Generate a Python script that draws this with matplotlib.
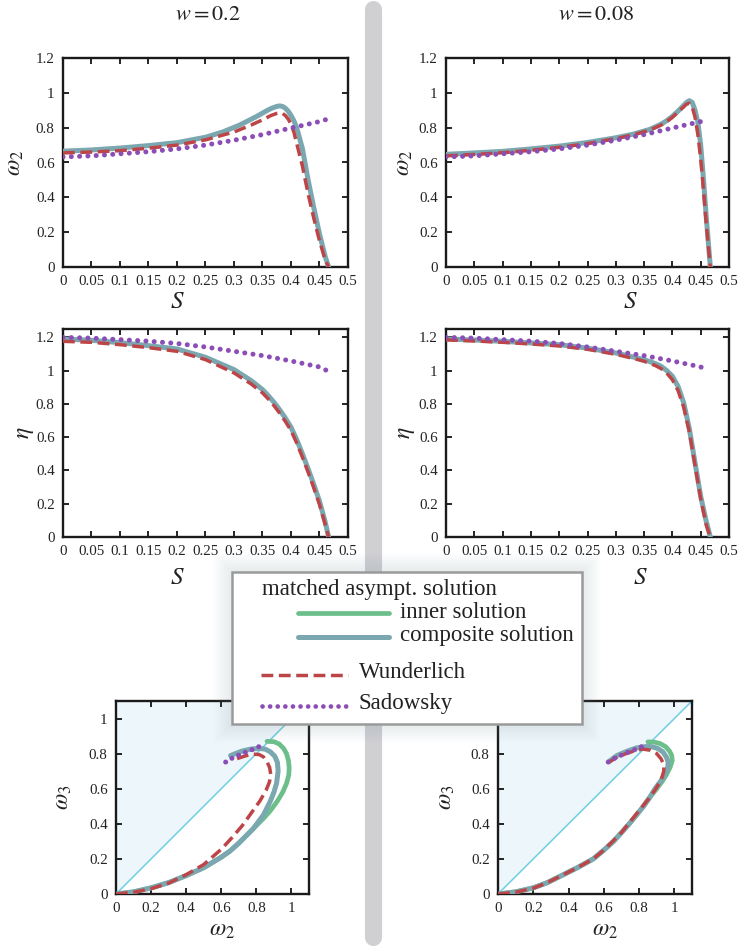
import numpy as np
import matplotlib
matplotlib.use('Agg')
import matplotlib.pyplot as plt
from matplotlib.lines import Line2D
from matplotlib.patches import Rectangle

plt.rcParams['font.family'] = ['Liberation Serif', 'DejaVu Serif']
plt.rcParams['mathtext.fontset'] = 'stix'
plt.rcParams['text.color'] = '#222222'

# ---- data, w = 0.2 (left column) ----
s_a = [0, 0.05, 0.1, 0.15, 0.2, 0.25, 0.28, 0.31, 0.34, 0.355, 0.365, 0.375, 0.38,
       0.385, 0.39, 0.395, 0.40, 0.405, 0.41, 0.42, 0.43, 0.44, 0.45, 0.46, 0.466]
w2_comp_a = [0.665, 0.672, 0.683, 0.697, 0.714, 0.745, 0.775, 0.815, 0.865, 0.893,
             0.91, 0.922, 0.925, 0.922, 0.912, 0.895, 0.87, 0.84, 0.80, 0.68, 0.50,
             0.34, 0.19, 0.06, 0.0]
s_wund_a = [0, 0.05, 0.1, 0.15, 0.2, 0.25, 0.3, 0.33, 0.35, 0.365, 0.375, 0.38,
            0.385, 0.39, 0.395, 0.40, 0.405, 0.41, 0.42, 0.43, 0.44, 0.45, 0.46, 0.466]
w2_wund_a = [0.655, 0.66, 0.668, 0.682, 0.70, 0.73, 0.775, 0.815, 0.845, 0.87,
             0.882, 0.885, 0.882, 0.87, 0.85, 0.82, 0.775, 0.71, 0.58, 0.42, 0.28,
             0.15, 0.04, 0.0]

s_eta_a = [0, 0.05, 0.1, 0.15, 0.2, 0.25, 0.3, 0.33, 0.35, 0.36, 0.37, 0.38, 0.39,
           0.40, 0.41, 0.42, 0.43, 0.44, 0.45, 0.46, 0.466]
eta_comp_a = [1.19, 1.182, 1.168, 1.15, 1.13, 1.08, 1.006, 0.94, 0.886, 0.85, 0.81,
              0.765, 0.715, 0.66, 0.585, 0.50, 0.41, 0.315, 0.215, 0.09, 0.0]
eta_wund_a = [1.176, 1.17, 1.156, 1.138, 1.116, 1.066, 0.986, 0.92, 0.866, 0.83,
              0.79, 0.745, 0.695, 0.64, 0.565, 0.48, 0.39, 0.295, 0.195, 0.075, 0.0]

# ---- data, w = 0.08 (right column) ----
s_b = [0, 0.05, 0.1, 0.15, 0.2, 0.25, 0.3, 0.33, 0.36, 0.38, 0.39, 0.40, 0.41,
       0.42, 0.425, 0.43, 0.435, 0.44, 0.445, 0.45, 0.455, 0.46, 0.467]
w2_comp_b = [0.647, 0.655, 0.664, 0.678, 0.694, 0.715, 0.742, 0.762, 0.79, 0.82,
             0.84, 0.865, 0.895, 0.928, 0.945, 0.955, 0.945, 0.90, 0.83, 0.70,
             0.50, 0.28, 0.0]
w2_wund_b = [0.638, 0.646, 0.656, 0.67, 0.687, 0.708, 0.737, 0.758, 0.786, 0.815,
             0.835, 0.86, 0.89, 0.92, 0.935, 0.94, 0.92, 0.86, 0.76, 0.62,
             0.44, 0.24, 0.0]

s_eta_b = [0, 0.05, 0.1, 0.15, 0.2, 0.25, 0.3, 0.33, 0.35, 0.37, 0.38, 0.39,
           0.40, 0.41, 0.42, 0.43, 0.44, 0.45, 0.46, 0.467]
eta_comp_b = [1.19, 1.184, 1.176, 1.166, 1.156, 1.135, 1.106, 1.082, 1.066, 1.042,
              1.026, 1.0, 0.966, 0.905, 0.806, 0.65, 0.445, 0.244, 0.09, 0.0]
eta_wund_b = [1.185, 1.178, 1.17, 1.16, 1.148, 1.128, 1.098, 1.074, 1.056, 1.03,
              1.012, 0.985, 0.945, 0.88, 0.78, 0.63, 0.43, 0.23, 0.07, 0.0]

# ---- Sadowsky (same in both columns) ----
s_sad = [0, 0.05, 0.1, 0.15, 0.2, 0.25, 0.3, 0.35, 0.4, 0.45, 0.463]
w2_sad = [0.632, 0.638, 0.65, 0.662, 0.678, 0.70, 0.728, 0.76, 0.798, 0.835, 0.848]
eta_sad = [1.2, 1.195, 1.186, 1.177, 1.163, 1.142, 1.116, 1.09, 1.058, 1.022, 1.0]
w2_sad_ph = [0.625, 0.66, 0.70, 0.745, 0.79, 0.835, 0.845]
w3_sad_ph = [0.752, 0.773, 0.792, 0.811, 0.828, 0.85, 0.855]

# ---- phase plane (omega2, omega3), w = 0.2 ----
ph_inner_x_a = [0, 0.1, 0.2, 0.3, 0.4, 0.5, 0.6, 0.65, 0.7, 0.74, 0.78, 0.81, 0.84,
                0.88, 0.92, 0.95, 0.972, 0.985, 0.987, 0.983, 0.972, 0.955, 0.93,
                0.9, 0.861]
ph_inner_y_a = [0, 0.012, 0.035, 0.065, 0.105, 0.15, 0.21, 0.245, 0.29, 0.33, 0.37,
                0.40, 0.43, 0.475, 0.53, 0.58, 0.63, 0.68, 0.72, 0.76, 0.80, 0.83,
                0.855, 0.868, 0.870]
ph_comp_x_a = [0, 0.1, 0.2, 0.3, 0.4, 0.5, 0.6, 0.65, 0.7, 0.74, 0.78, 0.81, 0.84,
               0.86, 0.88, 0.9, 0.915, 0.924, 0.92, 0.905, 0.88, 0.85, 0.81, 0.77,
               0.72, 0.68, 0.653]
ph_comp_y_a = [0, 0.012, 0.035, 0.065, 0.105, 0.15, 0.21, 0.245, 0.29, 0.33, 0.37,
               0.41, 0.45, 0.49, 0.53, 0.58, 0.63, 0.70, 0.75, 0.785, 0.81, 0.826,
               0.83, 0.826, 0.815, 0.80, 0.789]
ph_wund_x_a = [0, 0.1, 0.2, 0.3, 0.4, 0.5, 0.6, 0.66, 0.72, 0.77, 0.82, 0.855, 0.875,
               0.882, 0.876, 0.86, 0.84, 0.815, 0.78, 0.74, 0.70, 0.668]
ph_wund_y_a = [0, 0.01, 0.03, 0.062, 0.11, 0.168, 0.255, 0.32, 0.39, 0.46, 0.53,
               0.59, 0.64, 0.68, 0.72, 0.755, 0.782, 0.795, 0.797, 0.788, 0.775,
               0.762]

# ---- phase plane, w = 0.08 ----
ph_inner_x_b = [0, 0.1, 0.2, 0.28, 0.35, 0.45, 0.54, 0.6, 0.655, 0.7, 0.744, 0.785,
                0.825, 0.86, 0.9, 0.93, 0.955, 0.975, 0.988, 0.985, 0.972, 0.95,
                0.92, 0.885, 0.85]
ph_inner_y_b = [0, 0.012, 0.035, 0.065, 0.1, 0.15, 0.2, 0.25, 0.3, 0.35, 0.4, 0.45,
                0.5, 0.55, 0.6, 0.64, 0.68, 0.72, 0.76, 0.79, 0.815, 0.84, 0.857,
                0.866, 0.867]
ph_comp_x_b = [0, 0.1, 0.2, 0.28, 0.35, 0.45, 0.54, 0.6, 0.655, 0.7, 0.744, 0.785,
               0.825, 0.86, 0.89, 0.92, 0.945, 0.962, 0.965, 0.955, 0.935, 0.905,
               0.87, 0.835, 0.787, 0.73, 0.674, 0.63]
ph_comp_y_b = [0, 0.012, 0.035, 0.065, 0.1, 0.15, 0.2, 0.25, 0.3, 0.35, 0.4, 0.45,
               0.5, 0.55, 0.6, 0.64, 0.68, 0.72, 0.75, 0.78, 0.81, 0.83, 0.84, 0.84,
               0.833, 0.813, 0.789, 0.756]
ph_wund_x_b = [0, 0.1, 0.2, 0.28, 0.35, 0.45, 0.54, 0.6, 0.65, 0.7, 0.74, 0.78, 0.82,
               0.86, 0.895, 0.925, 0.94, 0.94, 0.925, 0.9, 0.86, 0.82, 0.77, 0.72,
               0.67, 0.63]
ph_wund_y_b = [0, 0.01, 0.033, 0.065, 0.1, 0.15, 0.2, 0.25, 0.3, 0.35, 0.4, 0.45,
               0.5, 0.55, 0.6, 0.65, 0.70, 0.735, 0.77, 0.80, 0.82, 0.826, 0.815,
               0.798, 0.777, 0.752]

s_ticks = [0, 0.05, 0.1, 0.15, 0.2, 0.25, 0.3, 0.35, 0.4, 0.45, 0.5]
w2_ticks = [0, 0.2, 0.4, 0.6, 0.8, 1, 1.2]
ph_ticks = [0, 0.2, 0.4, 0.6, 0.8, 1]

c_inner = '#6cbf8b'
c_comp = '#7ba8b0'
c_wund = '#be4547'
c_sad = '#8b4db6'
c_diag = '#6fcfe4'
c_shade = '#edf6fa'

W, H = 742, 948
fig = plt.figure(figsize=(W / 100, H / 100), dpi=100)


def px_axes(x0, y0, x1, y1):
    return fig.add_axes([x0 / W, 1 - y1 / H, (x1 - x0) / W, (y1 - y0) / H])


def style(ax, xlim, ylim, xt, yt):
    ax.set_xlim(*xlim)
    ax.set_ylim(*ylim)
    ax.set_xticks(xt)
    ax.set_yticks(yt)
    ax.set_xticklabels(['%g' % v for v in xt])
    ax.set_yticklabels(['%g' % v for v in yt])
    ax.tick_params(direction='in', top=True, right=True, length=4, width=1.2,
                   labelsize=10.8, pad=6, labelcolor='#222222')
    for sp in ax.spines.values():
        sp.set_linewidth(1.7)
        sp.set_color('#1a1a1a')


def dashed(ax, x, y):
    ax.plot(x, y, color=c_wund, lw=2.5, linestyle=(0, (3.4, 1.6)),
            dash_capstyle='butt', zorder=4)


def dotted(ax, x, y, gap=1.65):
    ax.plot(x, y, color=c_sad, lw=3.6, linestyle=(0, (0.01, gap)),
            dash_capstyle='round', zorder=5)


lab = dict(fontsize=18)

# gray separator bar
fig.add_artist(Line2D([372.5 / W, 372.5 / W], [1 - 8.5 / H, 1 - 936.5 / H],
                      transform=fig.transFigure, color='#d0d0d2', lw=12.3,
                      solid_capstyle='round', zorder=0))

fig.text(208 / W, 1 - 15 / H, r'$w = 0.2$', ha='center', va='center', fontsize=16)
fig.text(596 / W, 1 - 15 / H, r'$w = 0.08$', ha='center', va='center', fontsize=16)

cols = [
    (63, 348, s_a, w2_comp_a, s_wund_a, w2_wund_a, s_eta_a, eta_comp_a, eta_wund_a, 0.40, 0.40, -0.168, -0.133),
    (446, 729, s_b, w2_comp_b, s_b, w2_wund_b, s_eta_b, eta_comp_b, eta_wund_b, 0.65, 0.686, -0.145, -0.141),
]

for (x0, x1, s1, w2c, s2, w2w, se, etac, etaw, sx1, sx2, yl1, yl2) in cols:
    ax = px_axes(x0, 58, x1, 267)
    ax.plot(s1, w2c, color=c_comp, lw=3.6, solid_capstyle='round', zorder=3)
    dashed(ax, s2, w2w)
    dotted(ax, s_sad, w2_sad)
    style(ax, (0, 0.5), (0, 1.2), s_ticks, w2_ticks)
    ax.text(sx1, -0.168, r'$S$', transform=ax.transAxes, ha='center', va='center', **lab)
    ax.text(yl1, 0.5, r'$\omega_2$', transform=ax.transAxes, ha='center', va='center',
            rotation=90, fontsize=17)

    ax = px_axes(x0, 329, x1, 537)
    ax.plot(se, etac, color=c_comp, lw=3.6, solid_capstyle='round', zorder=3)
    dashed(ax, se, etaw)
    dotted(ax, s_sad, eta_sad)
    style(ax, (0, 0.5), (0, 1.25), s_ticks, w2_ticks)
    ax.text(sx2, -0.197, r'$S$', transform=ax.transAxes, ha='center', va='center', **lab)
    ax.text(yl2, 0.5, r'$\eta$', transform=ax.transAxes, ha='center', va='center',
            rotation=90, fontsize=17)

phase = [
    (116, 309, ph_inner_x_a, ph_inner_y_a, ph_comp_x_a, ph_comp_y_a, ph_wund_x_a, ph_wund_y_a, -0.27),
    (498, 692, ph_inner_x_b, ph_inner_y_b, ph_comp_x_b, ph_comp_y_b, ph_wund_x_b, ph_wund_y_b, -0.263),
]
for (x0, x1, ix, iy, cx, cy, wx, wy, yl) in phase:
    ax = px_axes(x0, 701, x1, 894)
    ax.fill_between([0, 1.1], [0, 1.1], 1.1, color=c_shade, lw=0, zorder=0)
    ax.plot([0, 1.1], [0, 1.1], color=c_diag, lw=1.1, zorder=1)
    ax.plot(ix, iy, color=c_inner, lw=3.4, solid_capstyle='round', zorder=2)
    ax.plot(cx, cy, color=c_comp, lw=3.6, solid_capstyle='round', zorder=3)
    dashed(ax, wx, wy)
    dotted(ax, w2_sad_ph, w3_sad_ph, gap=1.45)
    style(ax, (0, 1.1), (0, 1.1), ph_ticks, ph_ticks)
    ax.text(0.55, -0.19, r'$\omega_2$', transform=ax.transAxes, ha='center', va='center',
            fontsize=17)
    ax.text(yl, 0.5, r'$\omega_3$', transform=ax.transAxes, ha='center', va='center',
            rotation=90, fontsize=17)

# legend box (custom, with soft shadow)
m = 18
lg = px_axes(232 - m, 572 - m, 582 + m, 724 + m)
lg.set_zorder(20)
lg.set_xlim(-m, 350 + m)
lg.set_ylim(152 + m, -m)
lg.axis('off')
lg.patch.set_alpha(0)
for k in range(m, 0, -2):
    lg.add_patch(Rectangle((-k, -k), 350 + 2 * k, 152 + 2 * k, facecolor='#8a97a0',
                           alpha=0.018, lw=0))
lg.add_patch(Rectangle((0, 0), 350, 152, facecolor='white', edgecolor='#9a9a9a', lw=1.8))
fs = 16.5
lg.text(30, 17, 'matched asympt. solution', fontsize=fs, va='center', ha='left')
lg.plot([66, 157], [41, 41], color=c_inner, lw=3.4, solid_capstyle='round')
lg.text(168, 40, 'inner solution', fontsize=fs, va='center', ha='left')
lg.plot([66, 157], [65, 65], color=c_comp, lw=3.6, solid_capstyle='round')
lg.text(168, 64, 'composite solution', fontsize=fs, va='center', ha='left')
lg.plot([29, 116], [103, 103], color=c_wund, lw=2.5, linestyle=(0, (3.4, 1.6)),
        dash_capstyle='butt')
lg.text(127, 101, 'Wunderlich', fontsize=fs, va='center', ha='left')
lg.plot([30, 120], [134, 134], color=c_sad, lw=3.4, linestyle=(0, (0.01, 1.6)),
        dash_capstyle='round')
lg.text(127, 132, 'Sadowsky', fontsize=fs, va='center', ha='left')

fig.savefig('out.png', dpi=100, facecolor='white')
